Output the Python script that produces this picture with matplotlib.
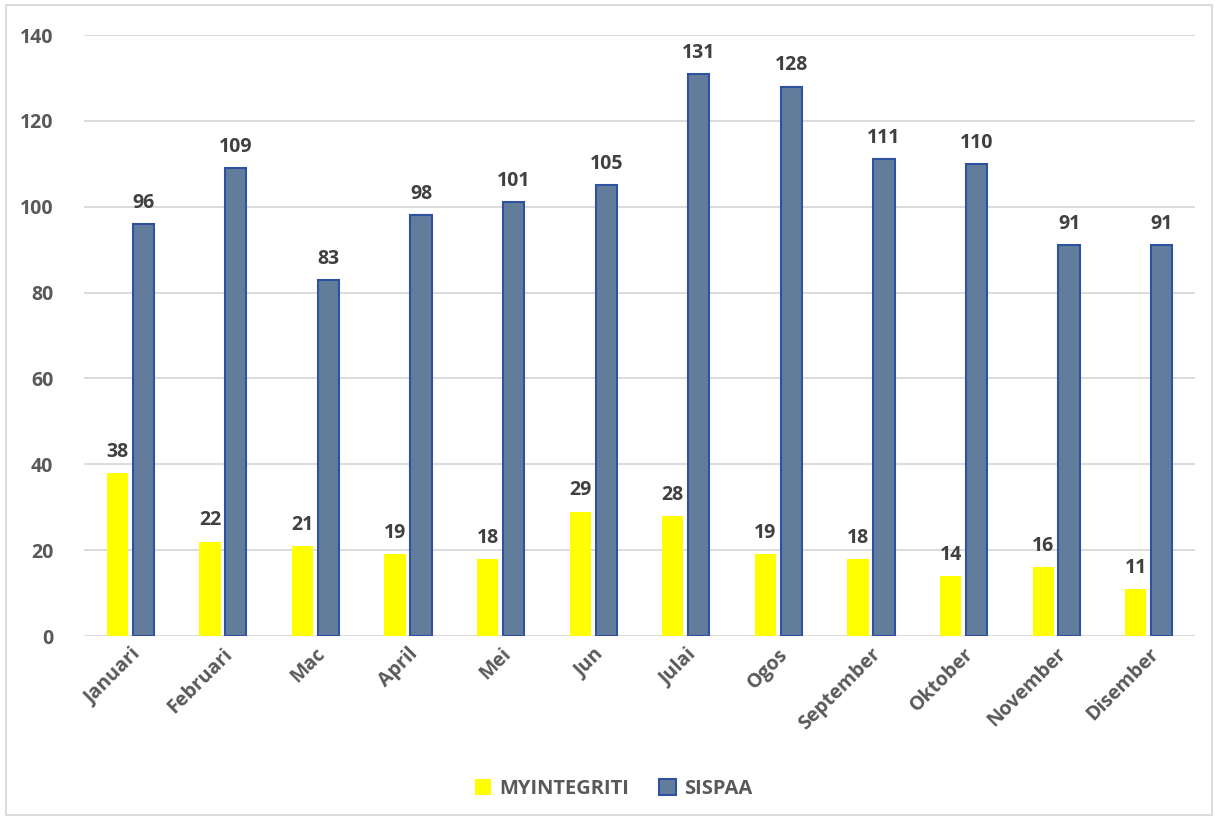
import numpy as np
import matplotlib.pyplot as plt
from matplotlib.patches import Rectangle

plt.rcParams['font.family'] = ['Open Sans', 'DejaVu Sans']

months = ['Januari', 'Februari', 'Mac', 'April', 'Mei', 'Jun', 'Julai',
          'Ogos', 'September', 'Oktober', 'November', 'Disember']
myintegriti = [38, 22, 21, 19, 18, 29, 28, 19, 18, 14, 16, 11]
sispaa = [96, 109, 83, 98, 101, 105, 131, 128, 111, 110, 91, 91]

fig = plt.figure(figsize=(12.15, 8.21), dpi=100)
ax = fig.add_axes([84/1215, 1-636/821, 1111/1215, 601/821])

x = np.arange(len(months))
w = 0.23
b1 = ax.bar(x - 0.14, myintegriti, w, color='#FFFF00', label='MYINTEGRITI', zorder=3)
b2 = ax.bar(x + 0.14, sispaa, w, color='#627C9C', edgecolor='#2F52A0', linewidth=1.5,
            label='SISPAA', zorder=3)

for bars in (b1, b2):
    ax.bar_label(bars, padding=8, fontsize=14, fontweight='bold', color='#404040')

ax.set_xlim(-0.5, len(months) - 0.5)
ax.set_ylim(0, 140)
ax.set_yticks(range(0, 141, 20))
ax.yaxis.grid(True, color='#D9D9D9', linewidth=1.3, zorder=0)
for s in ax.spines.values():
    s.set_visible(False)
ax.tick_params(length=0)
ax.tick_params(axis='y', pad=22)
ax.set_yticklabels([str(v) for v in range(0, 141, 20)], fontsize=14, fontweight='bold', color='#595959')
ax.set_xticks(x)
ax.set_xticklabels(months, rotation=45, ha='right', rotation_mode='anchor',
                   fontsize=14, fontweight='bold', color='#595959')
ax.tick_params(axis='x', pad=6)

leg = fig.legend(loc='center', bbox_to_anchor=(0.505, 1-789/821), ncol=2, frameon=False,
                 handlelength=0.8, handleheight=0.8, columnspacing=1.5, handletextpad=0.4,
                 prop={'size': 14.5, 'weight': 'bold'})
for t in leg.get_texts():
    t.set_color('#595959')

fig.patches.append(Rectangle((6/1215, 1-815/821), 1206/1215, 810/821, transform=fig.transFigure,
                             fill=False, edgecolor='#D9D9D9', linewidth=1.3))

fig.savefig('out.png', dpi=100)
